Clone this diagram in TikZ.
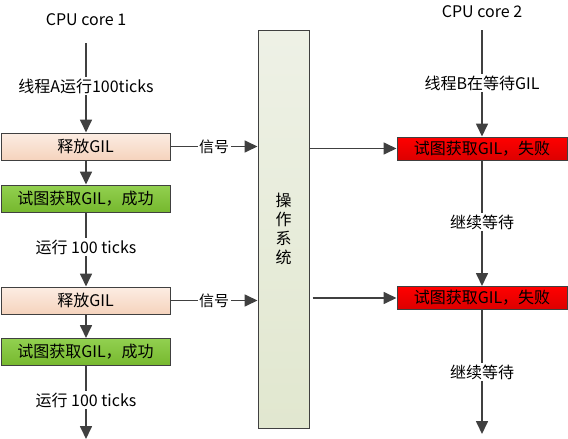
\documentclass[tikz,border=0pt]{standalone}
\usepackage{fontspec}
\setmainfont{Noto Sans CJK SC}
\usetikzlibrary{arrows.meta}
\definecolor{edge}{HTML}{404040}
\definecolor{peachT}{HTML}{FCEDE3}
\definecolor{peachB}{HTML}{F5D3BD}
\definecolor{greenT}{HTML}{92D050}
\definecolor{greenB}{HTML}{76B82E}
\definecolor{redT}{HTML}{FF0000}
\definecolor{redB}{HTML}{DC0000}
\definecolor{osT}{HTML}{EEF1E6}
\definecolor{osB}{HTML}{E1E7CF}
\tikzset{
  base/.style={draw=edge, line width=1pt, minimum width=169pt, inner sep=0pt, font=\fontsize{16}{19}\selectfont},
  relbox/.style={base, minimum height=27pt, top color=peachT, bottom color=peachB},
  sucbox/.style={base, minimum height=27pt, top color=greenT, bottom color=greenB},
  failbox/.style={base, minimum width=170pt, minimum height=23pt, top color=redT, bottom color=redB},
  osbox/.style={draw=edge, line width=1pt, minimum width=51pt, minimum height=398pt, top color=osT, bottom color=osB, inner sep=0pt},
  flow/.style={draw=edge, line width=1.7pt, -{Triangle[length=13pt,width=12pt]}},
  lbl/.style={fill=white, inner sep=1.5pt, font=\fontsize{16}{19}\selectfont},
  title/.style={font=\fontsize{16}{19}\selectfont, inner sep=0pt}
}
\begin{document}
\begin{tikzpicture}[x=1pt,y=-1pt]
\useasboundingbox (0,0) rectangle (568,439);
\node[title] (core1) at (86,20) {CPU core 1};
\node[title] (core2) at (482,12) {CPU core 2};
\node[relbox] (rel1) at (85.5,146.5) {释放GIL};
\node[sucbox] (suc1) at (85.5,198.5) {试图获取GIL，成功};
\node[relbox] (rel2) at (85.5,300.5) {释放GIL};
\node[sucbox] (suc2) at (85.5,352) {试图获取GIL，成功};
\node[osbox, align=center, font=\fontsize{16}{19}\selectfont] (os) at (283.5,229) {操\\作\\系\\统};
\node[failbox] (fail1) at (482,148.5) {试图获取GIL，失败};
\node[failbox] (fail2) at (482,298) {试图获取GIL，失败};
\coordinate (s1) at (86,43);
\coordinate (s2) at (482,30);
\coordinate (e1) at (86,439);
\coordinate (e2) at (482,434);
% left column
\draw[flow] (s1) -- node[lbl, pos=0.48] {线程A运行100ticks} (rel1.north -| s1);
\draw[flow] (rel1.south -| s1) -- (suc1.north -| s1);
\draw[flow] (suc1.south -| s1) -- node[lbl, pos=0.47] {运行 100 ticks} (rel2.north -| s1);
\draw[flow] (rel2.south -| s1) -- (suc2.north -| s1);
\draw[flow] (suc2.south -| s1) -- node[lbl, pos=0.47] {运行 100 ticks} (e1);
% right column
\draw[flow] (s2) -- node[lbl, pos=0.5] {线程B在等待GIL} (fail1.north -| s2);
\draw[flow] (fail1.south -| s2) -- node[lbl, pos=0.49] {继续等待} (fail2.north -| s2);
\draw[flow] (fail2.south -| s2) -- node[lbl, pos=0.5] {继续等待} (e2);
% signals
\draw[flow] (rel1.east) -- node[lbl, pos=0.5, font=\fontsize{15}{17}\selectfont] {信号} (os.west |- rel1.east);
\draw[flow] (rel2.east) -- node[lbl, pos=0.5, font=\fontsize{15}{17}\selectfont] {信号} (os.west |- rel2.east);
\draw[flow] (os.east |- fail1.west) -- (fail1.west);
\draw[flow] ([xshift=3pt]os.east |- fail2.west) -- (fail2.west);
\end{tikzpicture}
\end{document}
